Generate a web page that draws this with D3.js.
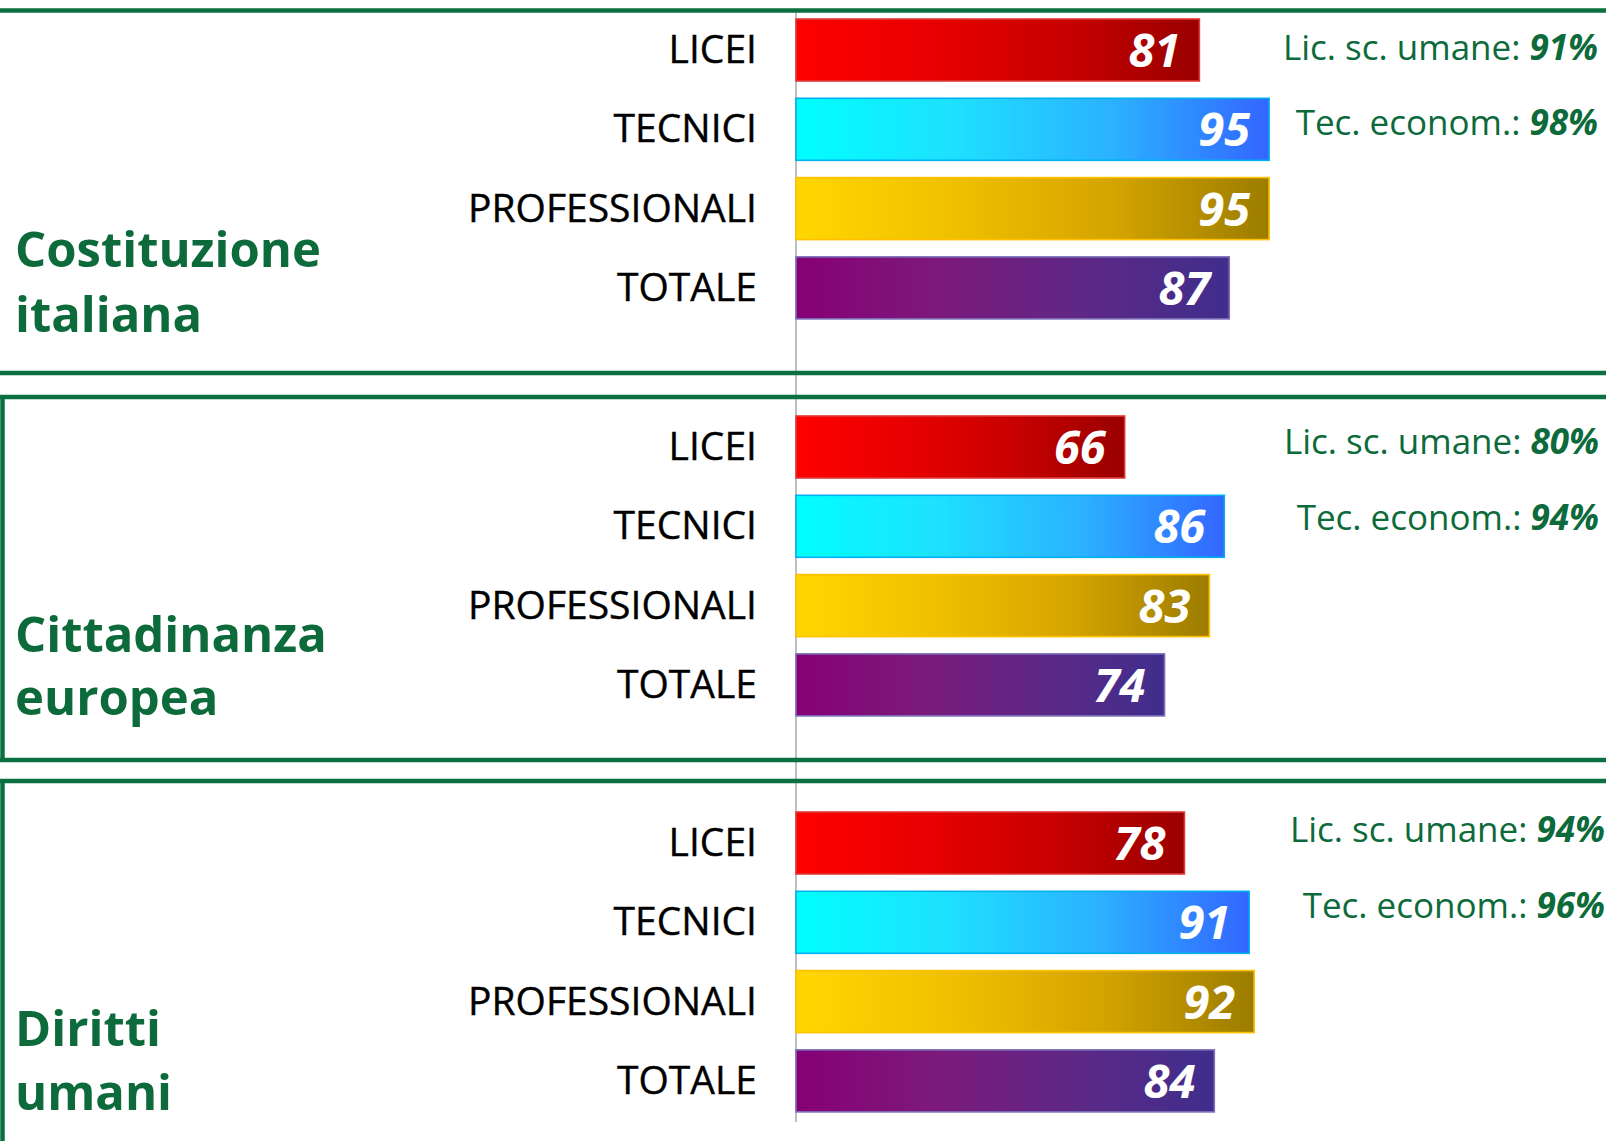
<!DOCTYPE html>
<html>
<head>
<meta charset="utf-8">
<script src="https://cdn.jsdelivr.net/npm/d3@7"></script>
<style>
  html, body { margin: 0; padding: 0; background: #ffffff; }
  svg { display: block; }
</style>
</head>
<body>
<svg id="chart" width="1606" height="1141"></svg>
<script>
// ---------- DATA ----------
const categories = ["LICEI", "TECNICI", "PROFESSIONALI", "TOTALE"];
const topicTitles = [
  ["Costituzione", "italiana"],
  ["Cittadinanza", "europea"],
  ["Diritti", "umani"]
];
const valuesCostituzione = [81, 95, 95, 87];
const valuesCittadinanza = [66, 86, 83, 74];
const valuesDiritti = [78, 91, 92, 84];
const licScUmane = [91, 80, 94];
const tecEconom = [98, 94, 96];
const noteLabels = ["Lic. sc. umane: ", "Tec. econom.: "];

// ---------- LAYOUT ----------
const W = 1606, H = 1141;
const green = "#0b7040";
const textGreen = "#0c6a3b";
const svg = d3.select("#chart");

const panels = [
  { values: valuesCostituzione, top: 10.5, bottom: 373, leftBorder: false, barTop: 19,
    titleY: [267, 332], noteY: [60, 135], noteX: 1598 },
  { values: valuesCittadinanza, top: 397, bottom: 760, leftBorder: true, barTop: 416,
    titleY: [652, 715], noteY: [454, 530], noteX: 1599 },
  { values: valuesDiritti, top: 781, bottom: 1146, leftBorder: true, barTop: 812,
    titleY: [1046, 1110], noteY: [842, 918], noteX: 1605 }
];

const x = d3.scaleLinear().domain([0, 100]).range([796, 1294]);
const step = 79.3;

// gradients
const gradDefs = [
  { id: "gLicei", stops: ["#ff0000", "#e80000", "#c80000", "#990000"], stroke: "#e03a3a" },
  { id: "gTecnici", stops: ["#00ffff", "#1ee0ff", "#2bb2ff", "#3366ff"], stroke: "#00b0f0" },
  { id: "gProf", stops: ["#ffd700", "#f0c000", "#d4a400", "#9c7c00"], stroke: "#ffc000" },
  { id: "gTot", stops: ["#860075", "#7c1a7c", "#5e2886", "#3f2e8c"], stroke: "#7b6fb8" }
];
const defs = svg.append("defs");
gradDefs.forEach(g => {
  const lg = defs.append("linearGradient").attr("id", g.id)
    .attr("x1", "0%").attr("x2", "100%").attr("y1", "0%").attr("y2", "0%");
  g.stops.forEach((c, i) => lg.append("stop")
    .attr("offset", (i / (g.stops.length - 1) * 100) + "%").attr("stop-color", c));
});

// vertical axis line
svg.append("line")
  .attr("x1", x(0)).attr("x2", x(0)).attr("y1", 12).attr("y2", 1122)
  .attr("stroke", "#b0b0b0").attr("stroke-width", 1.6);

panels.forEach((p, pi) => {
  const g = svg.append("g");
  // panel frame
  g.append("line").attr("x1", 0).attr("x2", W + 10).attr("y1", p.top).attr("y2", p.top)
    .attr("stroke", green).attr("stroke-width", 4.5);
  g.append("line").attr("x1", 0).attr("x2", W + 10).attr("y1", p.bottom).attr("y2", p.bottom)
    .attr("stroke", green).attr("stroke-width", 4.5);
  if (p.leftBorder) {
    g.append("line").attr("x1", 2.5).attr("x2", 2.5).attr("y1", p.top).attr("y2", p.bottom)
      .attr("stroke", green).attr("stroke-width", 4.5);
  }

  const y = d3.scaleBand().domain(categories)
    .range([p.barTop - 8.65, p.barTop - 8.65 + 4 * step])
    .paddingInner(0.218).paddingOuter(0.109);

  // bars
  g.selectAll("rect.bar").data(p.values).join("rect")
    .attr("class", "bar")
    .attr("x", x(0))
    .attr("y", (d, i) => y(categories[i]))
    .attr("width", d => x(d) - x(0))
    .attr("height", y.bandwidth())
    .attr("fill", (d, i) => `url(#${gradDefs[i].id})`)
    .attr("stroke", (d, i) => gradDefs[i].stroke)
    .attr("stroke-width", 1.6);

  // value labels
  g.selectAll("text.val").data(p.values).join("text")
    .attr("class", "val")
    .attr("x", d => x(d) - 19)
    .attr("y", (d, i) => y(categories[i]) + y.bandwidth() / 2 + 17)
    .attr("text-anchor", "end")
    .attr("font-family", "'Open Sans', sans-serif")
    .attr("font-weight", 700).attr("font-style", "italic")
    .attr("font-size", 47).attr("fill", "#ffffff")
    .text(d => d);

  // category labels
  g.selectAll("text.cat").data(categories).join("text")
    .attr("class", "cat")
    .attr("x", 757)
    .attr("y", d => y(d) + y.bandwidth() / 2 + 13)
    .attr("text-anchor", "end")
    .attr("font-family", "'Open Sans', sans-serif")
    .attr("font-size", 39).attr("fill", "#000000")
    .attr("stroke", "#000000").attr("stroke-width", 0.4)
    .text(d => d);

  // title
  topicTitles[pi].forEach((line, li) => {
    g.append("text")
      .attr("x", 15).attr("y", p.titleY[li])
      .attr("font-family", "'Open Sans', sans-serif")
      .attr("font-weight", 700).attr("font-size", 49)
      .attr("fill", textGreen)
      .text(line);
  });

  // notes
  const notes = [licScUmane[pi], tecEconom[pi]];
  notes.forEach((v, ni) => {
    const t = g.append("text")
      .attr("x", p.noteX).attr("y", p.noteY[ni])
      .attr("text-anchor", "end")
      .attr("font-family", "'Open Sans', sans-serif")
      .attr("font-size", 35).attr("fill", textGreen);
    t.append("tspan").text(noteLabels[ni]);
    t.append("tspan").attr("font-weight", 700).attr("font-style", "italic").text(v + "%");
  });
});
</script>
</body>
</html>
